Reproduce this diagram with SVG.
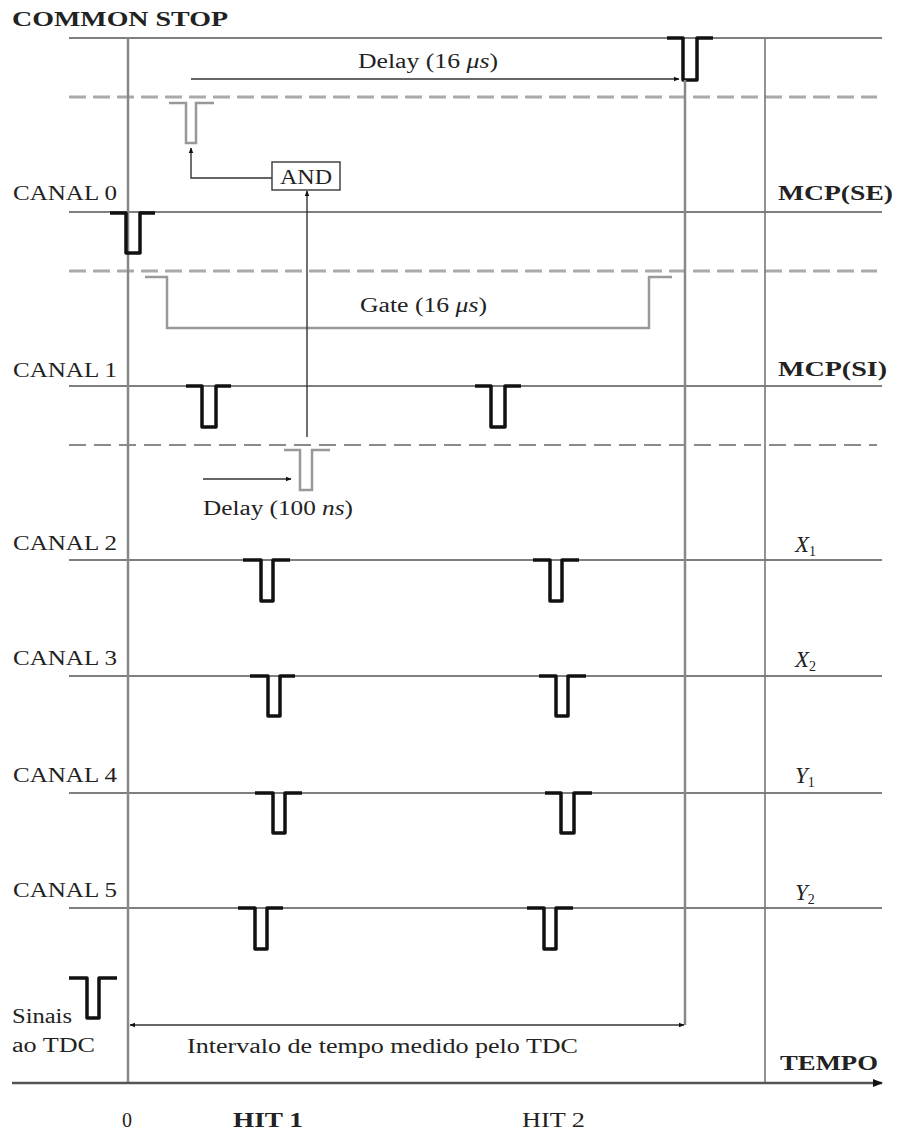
<svg xmlns="http://www.w3.org/2000/svg" width="897" height="1138" viewBox="0 0 897 1138">
<style>
text{font-family:"Liberation Serif","Times New Roman",serif;fill:#222;font-size:20px}
.b{font-weight:bold}
.i{font-style:italic}
.big{font-size:22px}
.lbl{font-size:21px}
.xy{font-style:italic;font-size:23px}
.sub{font-style:normal;font-size:14px}
.sig{stroke:#555;stroke-width:1.5;fill:none}
.dash1{stroke:#aaa;stroke-width:3;stroke-dasharray:17 7;fill:none}
.dash2{stroke:#666;stroke-width:1.5;stroke-dasharray:17 8;fill:none}
.vg{stroke:#888;stroke-width:2.5;fill:none}
.vd{stroke:#777;stroke-width:1.6;fill:none}
.pulse{stroke:#111;stroke-width:3.5;fill:none;stroke-linejoin:round}
.gpulse{stroke:#999;stroke-width:2.5;fill:none}
.arr{stroke:#333;stroke-width:1.4;fill:none}
</style>
<defs>
<marker id="ah" viewBox="0 0 10 10" refX="9" refY="5" markerWidth="6" markerHeight="6" markerUnits="userSpaceOnUse" orient="auto-start-reverse"><path d="M0,1 L10,5 L0,9 Z" fill="#111"/></marker>
<marker id="ahBig" viewBox="0 0 10 10" refX="9" refY="5" markerWidth="14" markerHeight="10" markerUnits="userSpaceOnUse" orient="auto"><path d="M0,1 L10,5 L0,9 Z" fill="#111"/></marker>
</defs>

<g id="grid">
<line class="sig" x1="69" y1="38" x2="882" y2="38"/>
<line class="sig" x1="69" y1="212" x2="882" y2="212"/>
<line class="sig" x1="69" y1="386" x2="882" y2="386"/>
<line class="sig" x1="69" y1="560" x2="882" y2="560"/>
<line class="sig" x1="69" y1="676" x2="882" y2="676"/>
<line class="sig" x1="69" y1="793" x2="882" y2="793"/>
<line class="sig" x1="69" y1="908" x2="882" y2="908"/>
<line class="dash1" x1="69" y1="97" x2="877" y2="97"/>
<line class="dash1" x1="69" y1="271" x2="877" y2="271"/>
<line class="dash2" x1="69" y1="445" x2="877" y2="445"/>
<line class="vg" x1="128" y1="38" x2="128" y2="1083"/>
<line class="vd" x1="765" y1="38" x2="765" y2="1083"/>
<line x1="12" y1="1083" x2="882" y2="1083" stroke="#555" stroke-width="2.5" marker-end="url(#ahBig)"/>
</g>

<g id="labels">
<text x="12" y="26" class="b lbl" textLength="216" lengthAdjust="spacingAndGlyphs">COMMON STOP</text>
<text x="13" y="200" class="lbl" textLength="104" lengthAdjust="spacingAndGlyphs">CANAL 0</text>
<text x="13" y="377" class="lbl" textLength="104" lengthAdjust="spacingAndGlyphs">CANAL 1</text>
<text x="13" y="550" class="lbl" textLength="104" lengthAdjust="spacingAndGlyphs">CANAL 2</text>
<text x="13" y="665" class="lbl" textLength="104" lengthAdjust="spacingAndGlyphs">CANAL 3</text>
<text x="13" y="782" class="lbl" textLength="104" lengthAdjust="spacingAndGlyphs">CANAL 4</text>
<text x="13" y="897" class="lbl" textLength="104" lengthAdjust="spacingAndGlyphs">CANAL 5</text>
<text x="778" y="200" class="b" textLength="115" lengthAdjust="spacingAndGlyphs">MCP(SE)</text>
<text x="778" y="376" class="b" textLength="109" lengthAdjust="spacingAndGlyphs">MCP(SI)</text>
<text x="795" y="552" class="xy">X<tspan class="sub" dy="4">1</tspan></text>
<text x="795" y="667" class="xy">X<tspan class="sub" dy="4">2</tspan></text>
<text x="795" y="783" class="xy">Y<tspan class="sub" dy="4">1</tspan></text>
<text x="795" y="900" class="xy">Y<tspan class="sub" dy="4">2</tspan></text>
<text x="12" y="1023" textLength="60" lengthAdjust="spacingAndGlyphs">Sinais</text>
<text x="12" y="1052" textLength="83" lengthAdjust="spacingAndGlyphs">ao TDC</text>
<text x="187" y="1053" textLength="391" lengthAdjust="spacingAndGlyphs">Intervalo de tempo medido pelo TDC</text>
<text x="780" y="1070" class="b" textLength="98" lengthAdjust="spacingAndGlyphs">TEMPO</text>
<text x="122" y="1127">0</text>
<text x="233" y="1127" class="b" textLength="70" lengthAdjust="spacingAndGlyphs">HIT 1</text>
<text x="522" y="1127" textLength="63" lengthAdjust="spacingAndGlyphs">HIT 2</text>
<text x="358" y="68" textLength="140" lengthAdjust="spacingAndGlyphs">Delay (16 <tspan class="i">μs</tspan>)</text>
<text x="360" y="312" textLength="127" lengthAdjust="spacingAndGlyphs">Gate (16 <tspan class="i">μs</tspan>)</text>
<text x="203" y="515" textLength="150" lengthAdjust="spacingAndGlyphs">Delay (100 <tspan class="i">ns</tspan>)</text>
</g>

<g id="and-gate">
<rect x="272" y="162" width="68" height="28" fill="#fff" stroke="#444" stroke-width="1.5"/>
<text x="280" y="184" textLength="52" lengthAdjust="spacingAndGlyphs">AND</text>
</g>

<g id="pulses">
<path class="pulse" d="M667,38 H683 V80 H697 V38 H713"/>
<path class="pulse" d="M110,213 H126 V253 H140 V213 H155"/>
<path class="pulse" d="M186,386 H202 V427 H216 V386 H231"/>
<path class="pulse" d="M475,386 H491 V427 H505 V386 H521"/>
<path class="pulse" d="M243,560 H261 V601 H273 V560 H290"/>
<path class="pulse" d="M533,560 H550 V601 H562 V560 H579"/>
<path class="pulse" d="M250,676 H268 V716 H280 V676 H295"/>
<path class="pulse" d="M539,676 H556 V716 H568 V676 H586"/>
<path class="pulse" d="M255,793 H273 V833 H285 V793 H302"/>
<path class="pulse" d="M545,793 H561 V833 H574 V793 H592"/>
<path class="pulse" d="M238,908 H255 V949 H267 V908 H283"/>
<path class="pulse" d="M527,908 H544 V949 H556 V908 H573"/>
<path class="pulse" d="M69,978 H87 V1018 H99 V978 H117"/>
<path class="gpulse" d="M169,103 H186 V143 H196 V103 H214"/>
<path class="gpulse" d="M284,450 H300 V490 H312 V450 H330"/>
<path class="gpulse" d="M145,277 H167 V328 H649 V277 H672"/>
</g>

<g id="connectors">
<line class="arr" x1="191" y1="79" x2="679" y2="79" marker-end="url(#ah)"/>
<path class="arr" d="M272,178 H191 V148" marker-end="url(#ah)"/>
<line class="arr" x1="307" y1="437" x2="307" y2="191" marker-end="url(#ah)"/>
<line class="arr" x1="203" y1="479" x2="291" y2="479" marker-end="url(#ah)"/>
<line class="vg" x1="685" y1="80" x2="685" y2="1025"/>
<line class="arr" x1="130" y1="1025" x2="684" y2="1025" marker-start="url(#ah)" marker-end="url(#ah)"/>
</g>
</svg>
